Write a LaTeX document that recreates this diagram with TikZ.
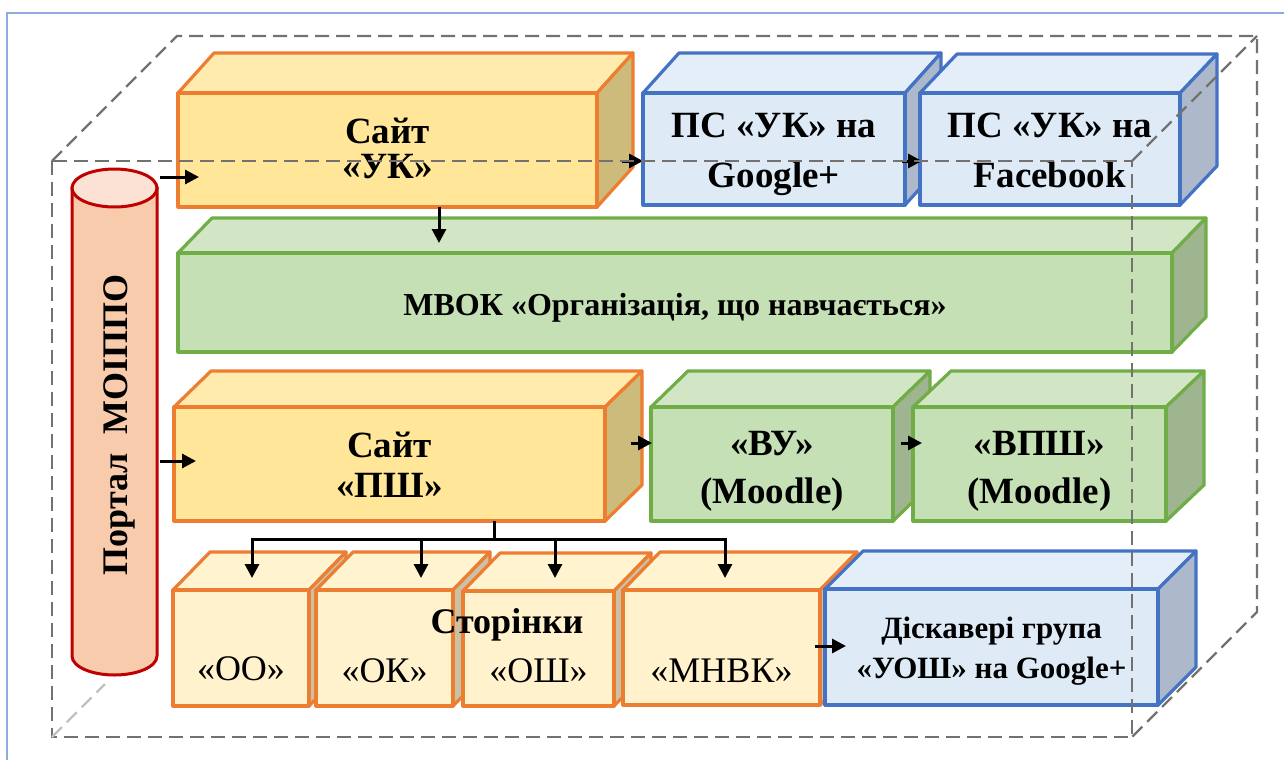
\documentclass[tikz,border=0pt]{standalone}
\usepackage{fontspec}
\setmainfont{Liberation Serif}
\usetikzlibrary{arrows.meta,calc}
\definecolor{framec}{HTML}{8FAADC}
\definecolor{dashc}{HTML}{767171}
\definecolor{obord}{HTML}{ED7D31}
\definecolor{ofront}{HTML}{FFE699}
\definecolor{otop}{HTML}{FFEBAD}
\definecolor{oside}{HTML}{CDBB7B}
\definecolor{lfront}{HTML}{FFF2CC}
\definecolor{ltop}{HTML}{FFF3D0}
\definecolor{lside}{HTML}{C9C2A6}
\definecolor{gbord}{HTML}{70AD47}
\definecolor{gfront}{HTML}{C5E0B4}
\definecolor{gtop}{HTML}{D2E6C5}
\definecolor{gside}{HTML}{9FB590}
\definecolor{bbord}{HTML}{4472C4}
\definecolor{bfront}{HTML}{DEEBF7}
\definecolor{btop}{HTML}{E4EEF8}
\definecolor{bside}{HTML}{ADB9CA}
\definecolor{cbord}{HTML}{C00000}
\definecolor{cbody}{HTML}{F8CBAD}
\definecolor{ctop}{HTML}{FBE2D5}
\newcommand{\cuboid}[8]{%
  \filldraw[#8top] (#2,#3) -- (#2+#6,#3-#7) -- (#4+#6,#3-#7) -- (#4,#3) -- cycle;
  \filldraw[#8side] (#4,#3) -- (#4+#6,#3-#7) -- (#4+#6,#5-#7) -- (#4,#5) -- cycle;
  \node[#8front, anchor=north west, minimum width={(#4-#2)*1pt}, minimum height={(#5-#3)*1pt}] (#1) at (#2,#3) {};
}
\begin{document}
\begin{tikzpicture}[x=1pt,y=-1pt,
  bx/.style={line width=3.2pt, line join=round, inner sep=0pt, outer sep=0pt},
  ortop/.style={bx, draw=obord, fill=otop},
  orside/.style={bx, draw=obord, fill=oside},
  orfront/.style={bx, draw=obord, fill=ofront},
  lotop/.style={bx, draw=obord, fill=ltop},
  loside/.style={bx, draw=obord, fill=lside},
  lofront/.style={bx, draw=obord, fill=lfront},
  grtop/.style={bx, draw=gbord, fill=gtop},
  grside/.style={bx, draw=gbord, fill=gside},
  grfront/.style={bx, draw=gbord, fill=gfront},
  bltop/.style={bx, draw=bbord, fill=btop},
  blside/.style={bx, draw=bbord, fill=bside},
  blfront/.style={bx, draw=bbord, fill=bfront},
  arr/.style={line width=3pt, -{Triangle[length=14pt,width=14pt]}},
  conn/.style={line width=3pt},
  dashline/.style={draw=dashc, line width=2.2pt, dash pattern=on 14pt off 7pt},
  lbl/.style={anchor=base, align=center, inner sep=0pt, font=\bfseries\fontsize{37}{40}\selectfont},
  plain/.style={anchor=base, inner sep=0pt, font=\fontsize{36}{40}\selectfont}]
\useasboundingbox (0,0) rectangle (1284,760);
\fill[white] (0,0) rectangle (1284,760);
\draw[framec, line width=1.5pt] (7,760) -- (7,13) -- (1284,13);

% cylinder
\filldraw[draw=cbord, fill=cbody, line width=3pt] (72,188) -- (72,656) arc[start angle=180, end angle=0, x radius=42.5, y radius=19] -- (157,188) -- cycle;
\filldraw[draw=cbord, fill=ctop, line width=3pt] (114.5,188) ellipse[x radius=42.5, y radius=19];
\node[anchor=base, rotate=90, inner sep=0pt, font=\bfseries\fontsize{36}{40}\selectfont] (cyl) at (127,425) {Портал\ \ МОІППО};
\coordinate (cylE) at (160,425);

% top row
\cuboid{uk}{178}{93}{597}{207}{36}{40}{or}
\cuboid{gp}{643}{93}{905}{205}{36}{40}{bl}
\cuboid{fb}{920}{93}{1180}{205}{37}{39}{bl}
% MVOK
\cuboid{mv}{178}{253}{1172}{352}{34}{35}{gr}
% third row
\cuboid{pw}{174}{407}{605}{521}{37}{36}{or}
\cuboid{vu}{651}{407}{893}{521}{37}{36}{gr}
\cuboid{vp}{913}{407}{1166}{521}{38}{36}{gr}
% bottom row
\cuboid{oo}{173}{590}{309}{706}{37}{38}{lo}
\cuboid{ok}{316}{590}{453}{706}{37}{38}{lo}
\cuboid{osh}{463}{591}{614}{706}{37}{38}{lo}
\cuboid{mn}{623}{590}{820}{705}{37}{38}{lo}
\cuboid{dk}{825}{589}{1158}{705}{38}{38}{bl}

% texts (base anchor = baseline of the last line)
\node[lbl, font=\bfseries\fontsize{37}{35}\selectfont] (ukt) at ($(uk.north)+(0,85)$) {Сайт\\«УК»};
\node[lbl, font=\bfseries\fontsize{37}{50}\selectfont] (gpt) at ($(gp.north)+(0,94)$) {ПС «УК» на\\Google+};
\node[lbl, font=\bfseries\fontsize{37}{50}\selectfont] (fbt) at ($(fb.north)+(0,94)$) {ПС «УК» на\\Facebook};
\node[lbl, font=\bfseries\fontsize{32}{38}\selectfont] (mvt) at ($(mv.north)+(0,62)$) {МВОК «Організація, що навчається»};
\node[lbl, font=\bfseries\fontsize{37}{40}\selectfont] (pwt) at ($(pw.north)+(0,90)$) {Сайт\\«ПШ»};
\node[lbl, font=\bfseries\fontsize{37}{48}\selectfont] (vut) at ($(vu.north)+(0,96)$) {«ВУ»\\(Moodle)};
\node[lbl, font=\bfseries\fontsize{37}{48}\selectfont] (vpt) at ($(vp.north)+(0,96)$) {«ВПШ»\\(Moodle)};
\node[lbl, font=\bfseries\fontsize{31}{40}\selectfont] (dkt) at ($(dk.north)+(0,89)$) {Діскавері група\\«УОШ» на Google+};
\node[plain] (oot) at ($(oo.north)+(0,90)$) {«ОО»};
\node[plain] (okt) at ($(ok.north)+(0,92)$) {«ОК»};
\node[plain] (osht) at ($(osh.north)+(0,91)$) {«ОШ»};
\node[plain] (mnt) at ($(mn.north)+(0,92)$) {«МНВК»};
\node[anchor=base, inner sep=0pt, font=\bfseries\fontsize{36}{40}\selectfont] (str) at (507,633) {Сторінки};

% arrows
\coordinate (a1) at ($(uk.south west)+(21,-30)$);
\draw[arr] (cylE |- a1) -- (a1);
\coordinate (a2) at ($(gp.north west)+(0,68)$);
\draw[arr] ($(a2)+(-21,0)$) -- (a2);
\coordinate (a3) at ($(fb.north west)+(2,68)$);
\draw[arr] ($(a3)+(-20,0)$) -- (a3);
\coordinate (a4) at ($(uk.south west)+(261,0)$);
\draw[arr] (a4) -- ($(mv.north west)+(261,-10)$);
\coordinate (a5) at ($(pw.north west)+(22,54)$);
\draw[arr] (cylE |- a5) -- (a5);
\coordinate (a6) at ($(vu.north west)+(1,36)$);
\draw[arr] ($(a6)+(-21,0)$) -- (a6);
\coordinate (a7) at ($(vp.north west)+(9,36)$);
\draw[arr] ($(a7)+(-21,0)$) -- (a7);
\coordinate (a9) at ($(dk.north west)+(21,57)$);
\draw[arr] ($(a9)+(-31,0)$) -- (a9);
% tree
\coordinate (s0) at ($(pw.south west)+(320,0)$);
\coordinate (j) at ($(s0)+(0,18)$);
\coordinate (d1) at ($(oo.north west)+(79,-12)$);
\coordinate (d2) at ($(ok.north west)+(105,-12)$);
\coordinate (d3) at ($(osh.north west)+(92,-13)$);
\coordinate (d4) at ($(mn.north west)+(102,-12)$);
\draw[conn] (s0) -- (j);
\draw[arr] (j) -| (d1);
\draw[arr] (j) -| (d4);
\draw[arr] (d2 |- j) -- (d2);
\draw[arr] (d3 |- j) -- (d3);

% dashed cube
\draw[dashline] (52,161) rectangle (1132,737);
\draw[dashline] (52,161) -- (177,36) -- (1257,36) -- (1257,612) -- (1132,737);
\draw[dashline] (1132,161) -- (1257,36);
\draw[dashline, draw=dashc!45] (52,737) -- (105,684);
\end{tikzpicture}
\end{document}
